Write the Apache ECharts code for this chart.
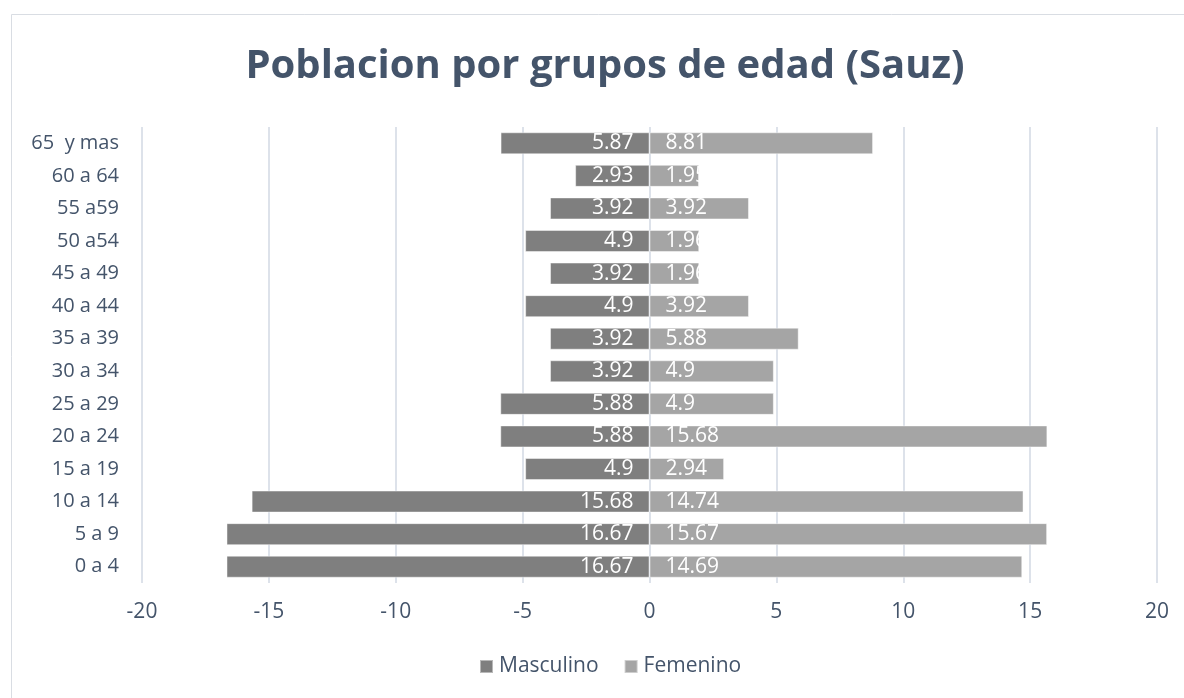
<!DOCTYPE html>
<html>
<head>
<meta charset="utf-8">
<title>Poblacion por grupos de edad (Sauz)</title>
<script src="https://cdn.jsdelivr.net/npm/echarts@6/dist/echarts.min.js"></script>
<style>
  html, body { margin: 0; padding: 0; background: #ffffff; }
  #chart { width: 1184px; height: 698px; }
</style>
</head>
<body>
<div id="chart"></div>
<script>
// Age groups, bottom to top
const categories = ['0 a 4', '5 a 9', '10 a 14', '15 a 19', '20 a 24', '25 a 29', '30 a 34',
  '35 a 39', '40 a 44', '45 a 49', '50 a54', '55 a59', '60 a 64', '65  y mas'];
// Percent of population per group
const masculino = [16.67, 16.67, 15.68, 4.9, 5.88, 5.88, 3.92, 3.92, 4.9, 3.92, 4.9, 3.92, 2.93, 5.87];
const femenino = [14.69, 15.67, 14.74, 2.94, 15.68, 4.9, 4.9, 5.88, 3.92, 1.96, 1.96, 3.92, 1.95, 8.81];
const xTicks = [-20, -15, -10, -5, 0, 5, 10, 15, 20];

const textColor = '#44546a';
const font = '"Open Sans", "Noto Sans", sans-serif';

const chart = echarts.init(document.getElementById('chart'), null, { renderer: 'canvas' });

const valueLabel = (pos) => ({
  show: true,
  position: pos,
  distance: 16,
  color: '#ffffff',
  fontSize: 21,
  fontFamily: font,
  formatter: (p) => String(Math.abs(p.value))
});

chart.setOption({
  animation: false,
  backgroundColor: '#ffffff',
  graphic: [{
    type: 'rect',
    shape: { x: 11.5, y: 14.5, width: 1200, height: 700 },
    style: { fill: 'none', stroke: '#d9dde3', lineWidth: 1 },
    silent: true,
    z: -1
  }],
  title: {
    text: 'Poblacion por grupos de edad (Sauz)',
    left: 600,
    textAlign: 'center',
    top: 42,
    textStyle: { color: textColor, fontSize: 40, fontWeight: 'bold', fontFamily: font }
  },
  legend: {
    data: ['Masculino', 'Femenino'],
    left: 474,
    top: 651,
    itemWidth: 13,
    itemHeight: 13,
    itemGap: 25,
    icon: 'rect',
    textStyle: { color: textColor, fontSize: 21, fontFamily: font, padding: [0, 0, 0, 1] }
  },
  grid: { left: 142, right: 27, top: 127, bottom: 115, containLabel: false },
  xAxis: {
    type: 'value',
    min: xTicks[0],
    max: xTicks[xTicks.length - 1],
    interval: 5,
    axisLine: { show: false },
    axisTick: { show: false },
    splitLine: { show: true, lineStyle: { color: '#dde2ea', width: 2 } },
    axisLabel: { color: textColor, fontSize: 21, fontFamily: font, margin: 19 }
  },
  yAxis: {
    type: 'category',
    data: categories,
    axisLine: { show: false },
    axisTick: { show: false },
    axisLabel: { color: textColor, fontSize: 20, fontFamily: font, margin: 23 }
  },
  series: [
    {
      name: 'Masculino',
      type: 'bar',
      data: masculino.map(v => -v),
      barWidth: 22,
      barGap: '-100%',
      itemStyle: { color: '#7f7f7f', borderColor: 'rgba(255,255,255,0.45)', borderWidth: 1 },
      label: valueLabel('insideRight')
    },
    {
      name: 'Femenino',
      type: 'bar',
      data: femenino,
      barWidth: 22,
      barGap: '-100%',
      itemStyle: { color: '#a5a5a5', borderColor: 'rgba(255,255,255,0.45)', borderWidth: 1 },
      label: valueLabel('insideLeft')
    }
  ]
});
</script>
</body>
</html>
